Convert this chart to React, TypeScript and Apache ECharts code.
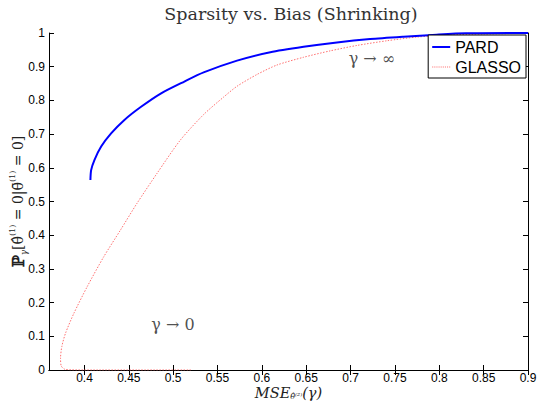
import React, { useEffect, useRef } from "react";
import * as echarts from "echarts";

const pardX = [0.4067, 0.4075, 0.4112, 0.4188, 0.43, 0.445, 0.4638, 0.4864, 0.5126, 0.5343, 0.572, 0.6095, 0.647, 0.6846, 0.722, 0.7596, 0.797, 0.83, 0.9];
const pardY = [0.564, 0.593, 0.623, 0.663, 0.702, 0.742, 0.781, 0.821, 0.856, 0.883, 0.918, 0.943, 0.959, 0.972, 0.982, 0.989, 0.995, 0.999, 1];

const glassoX = [0.52, 0.46, 0.4, 0.378, 0.3738, 0.373, 0.3745, 0.3786, 0.388, 0.403, 0.4217, 0.4405, 0.4593, 0.4819, 0.508, 0.5343, 0.5569, 0.572, 0.5945, 0.617, 0.647, 0.677, 0.707, 0.741, 0.775, 0.81, 0.85, 0.9];
const glassoY = [0, 0, 0, 0.002, 0.012, 0.035, 0.07, 0.109, 0.168, 0.247, 0.336, 0.415, 0.495, 0.584, 0.682, 0.758, 0.81, 0.842, 0.877, 0.905, 0.928, 0.947, 0.963, 0.977, 0.988, 0.994, 0.997, 0.999];

const xTicks = [0.4, 0.45, 0.5, 0.55, 0.6, 0.65, 0.7, 0.75, 0.8, 0.85, 0.9];
const annotX = [0.724, 0.4997];
const annotY = [0.925, 0.134];
const annotText = ["γ → ∞", "γ → 0"];

const SANS = "Liberation Sans, Arial, sans-serif";
const SERIF = "DejaVu Serif, serif";
const DOTS_ICON = "path://" + Array.from({ length: 9 }, (_, i) => `M${i * 2},0h1v1h-1z`).join("");

export default function App() {
  const ref = useRef<HTMLDivElement>(null);
  useEffect(() => {
    const chart = echarts.init(ref.current!, null, { renderer: "svg" });
    const frameAxis = {
      axisLine: { show: true, lineStyle: { color: "#000", width: 1 } },
      splitLine: { show: false },
    };
    const tick = { show: true, inside: true, length: 5, lineStyle: { color: "#000", width: 1 } };
    chart.setOption({
      animation: false,
      backgroundColor: "#fff",
      title: {
        text: "Sparsity vs. Bias (Shrinking)",
        left: 291,
        textAlign: "center",
        top: 5,
        padding: 0,
        textStyle: { fontFamily: SERIF, fontSize: 17.5, fontWeight: "normal", color: "#333" },
      },
      grid: { left: 49, right: 9, top: 33, bottom: 32, containLabel: false, outerBoundsMode: "none" },
      legend: {
        orient: "vertical",
        right: 11,
        top: 35,
        backgroundColor: "#fff",
        borderColor: "#000",
        borderWidth: 1,
        borderRadius: 0,
        padding: [4, 5, 3, 4],
        itemWidth: 18,
        itemHeight: 14,
        itemGap: 4,
        z: 10,
        textStyle: { fontFamily: SANS, fontSize: 16, color: "#000" },
        data: [
          { name: "PARD", icon: "path://M0,0h18v2h-18z" },
          { name: "GLASSO", icon: DOTS_ICON },
        ],
      },
      xAxis: [
        {
          type: "value",
          min: 0.36,
          max: 0.9,
          position: "bottom",
          ...frameAxis,
          axisTick: { ...tick, customValues: xTicks },
          axisLabel: { customValues: xTicks, color: "#000", fontFamily: SANS, fontSize: 12, margin: 2 },
          name: "{i|MSE}{s|θ̂⁽²⁾}{i|(γ)}",
          nameLocation: "middle",
          nameGap: 15,
          nameMoveOverlap: false,
          nameTextStyle: {
            rich: {
              i: { fontFamily: SERIF, fontStyle: "italic", fontSize: 14.5, color: "#222" },
              s: { fontFamily: SERIF, fontStyle: "italic", fontSize: 8, color: "#222", verticalAlign: "bottom" },
            },
          },
        },
        {
          type: "value",
          min: 0.36,
          max: 0.9,
          position: "top",
          ...frameAxis,
          axisTick: { ...tick, customValues: xTicks },
          axisLabel: { show: false },
        },
      ],
      yAxis: [
        {
          type: "value",
          min: 0,
          max: 1,
          interval: 0.1,
          position: "left",
          ...frameAxis,
          axisTick: tick,
          axisLabel: { color: "#000", fontFamily: SANS, fontSize: 12, margin: 4 },
          name: "{p|ℙ}{s|γ}{n|[θ̂}{u|(1)}{n| = 0|θ̄}{u|(1)}{n| = 0]}",
          nameLocation: "middle",
          nameRotate: 90,
          nameGap: 21,
          nameMoveOverlap: false,
          nameTextStyle: {
            rich: {
              p: { fontFamily: SERIF, fontSize: 16, fontWeight: "bold", color: "#222", lineHeight: 20 },
              n: { fontFamily: SERIF, fontSize: 14, color: "#222", lineHeight: 20 },
              s: { fontFamily: SERIF, fontStyle: "italic", fontSize: 9, color: "#222", verticalAlign: "bottom" },
              u: { fontFamily: SERIF, fontSize: 8, color: "#222", verticalAlign: "top" },
            },
          },
        },
        {
          type: "value",
          min: 0,
          max: 1,
          interval: 0.1,
          position: "right",
          ...frameAxis,
          axisTick: tick,
          axisLabel: { show: false },
        },
      ],
      series: [
        {
          name: "PARD",
          type: "line",
          data: pardX.map((x, i) => [x, pardY[i]]),
          symbol: "none",
          smooth: 0.25,
          lineStyle: { color: "#0000ff", width: 2 },
          itemStyle: { color: "#0000ff" },
          z: 3,
        },
        {
          name: "GLASSO",
          type: "line",
          data: glassoX.map((x, i) => [x, glassoY[i]]),
          symbol: "none",
          smooth: 0.25,
          lineStyle: { color: "#ff7070", width: 1, type: [1.5, 1.5] },
          itemStyle: { color: "#ff7070" },
          z: 2,
        },
        {
          name: "annot",
          type: "scatter",
          silent: true,
          symbolSize: 0,
          data: annotX.map((x, i) => [x, annotY[i], annotText[i]]),
          label: {
            show: true,
            position: "inside",
            formatter: (p: any) => p.value[2],
            fontFamily: SERIF,
            fontSize: 16,
            color: "#222",
          },
        },
      ],
    });
    return () => chart.dispose();
  }, []);
  return <div ref={ref} style={{ position: "absolute", left: 0, top: 0, width: 537, height: 402 }} />;
}
